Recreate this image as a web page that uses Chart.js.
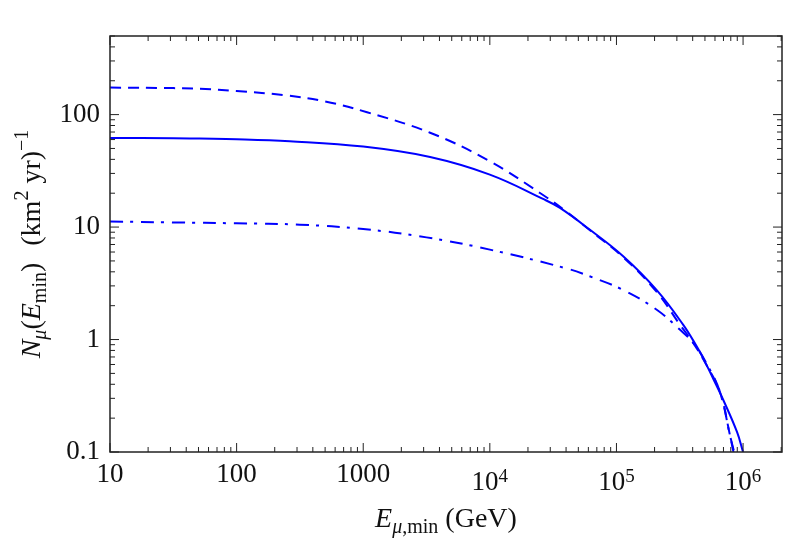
<!DOCTYPE html>
<html>
<head>
<meta charset="utf-8">
<script src="https://cdn.jsdelivr.net/npm/chart.js@4/dist/chart.umd.min.js"></script>
<style>
  html, body { margin: 0; padding: 0; background: #fff; }
  #wrap { width: 790px; height: 549px; }
</style>
</head>
<body>
<div id="wrap"><canvas id="muonChart"></canvas></div>
<script>
// energies (GeV) and muon counts
var solidE = [10, 31.6, 51, 100, 263, 1000, 3375, 10000, 26300, 35800, 61400, 113000, 208000, 337000, 430000, 485000, 580000, 698000, 897000, 1000000];
var solidN = [62, 61.7, 61.2, 60.5, 58, 52, 42, 29.3, 17.8, 14.8, 9.5, 5.5, 2.75, 1.35, 0.87, 0.68, 0.45, 0.29, 0.15, 0.1];

var dashE = [10, 31.6, 51.4, 100, 250, 500, 1072, 3375, 10000, 24900, 40000, 61400, 113000, 208000, 318000, 405000, 520000, 658000, 789000, 840000];
var dashN = [174, 172, 170, 162, 148, 131, 105, 69, 38.5, 20.1, 13.8, 9.4, 5.4, 2.65, 1.35, 0.93, 0.58, 0.34, 0.14, 0.1];

var dotE = [10, 31.6, 100, 316, 1000, 3160, 10000, 40000, 61400, 113000, 208000, 318000, 405000, 520000, 658000, 789000, 850000];
var dotN = [11.2, 11, 10.8, 10.5, 9.6, 8.1, 6.3, 4.3, 3.65, 2.76, 1.84, 1.22, 0.93, 0.6, 0.34, 0.14, 0.1];

var xTicks = [10, 100, 1000, 1e4, 1e5, 1e6];
var xTickBase = ['10', '100', '1000', '10', '10', '10'];
var xTickExp = ['', '', '', '4', '5', '6'];
var yTicks = [0.1, 1, 10, 100];
var yTickLabels = ['0.1', '1', '10', '100'];

var serif = '"Liberation Serif", "DejaVu Serif", serif';

function pts(xs, ys) {
  return xs.map(function(x, i) { return {x: x, y: ys[i]}; });
}

// inward major/minor ticks on all four sides plus the frame
var frameTicks = {
  id: 'frameTicks',
  afterDraw: function(chart) {
    var c = chart.ctx, a = chart.chartArea;
    var xs = chart.scales.x, ys = chart.scales.y;
    c.save();
    c.strokeStyle = '#222';
    c.lineWidth = 1.5;
    c.strokeRect(a.left, a.top, a.right - a.left, a.bottom - a.top);
    c.lineWidth = 1;
    var e, m, v, p, len;
    for (e = 0; e <= 6; e++) {
      for (m = 1; m <= 9; m++) {
        v = m * Math.pow(10, e);
        if (v < xs.min || v > xs.max) continue;
        p = xs.getPixelForValue(v);
        len = m === 1 ? 9 : 5;
        c.beginPath();
        c.moveTo(p, a.bottom); c.lineTo(p, a.bottom - len);
        c.moveTo(p, a.top); c.lineTo(p, a.top + len);
        c.stroke();
      }
    }
    for (e = -1; e <= 2; e++) {
      for (m = 1; m <= 9; m++) {
        v = m * Math.pow(10, e);
        if (v < ys.min || v > ys.max) continue;
        p = ys.getPixelForValue(v);
        len = m === 1 ? 9 : 5;
        c.beginPath();
        c.moveTo(a.left, p); c.lineTo(a.left + len, p);
        c.moveTo(a.right, p); c.lineTo(a.right - len, p);
        c.stroke();
      }
    }
    c.restore();
  }
};

// draw a run of styled text pieces; returns total width
function richText(c, parts, x, y, measureOnly) {
  var cx = x;
  parts.forEach(function(t) {
    c.font = (t.it ? 'italic ' : '') + t.size + 'px ' + serif;
    if (!measureOnly) c.fillText(t.s, cx, y + (t.dy || 0));
    cx += c.measureText(t.s).width + (t.gap || 0);
  });
  return cx - x;
}

// x tick labels with real superscript exponents
var xLabels = {
  id: 'xLabels',
  afterDraw: function(chart) {
    var c = chart.ctx, xs = chart.scales.x, a = chart.chartArea;
    c.save();
    c.fillStyle = '#111';
    c.textBaseline = 'alphabetic';
    c.textAlign = 'left';
    xTicks.forEach(function(v, i) {
      var p = xs.getPixelForValue(v);
      var parts = [{s: xTickBase[i], size: 27}];
      var base = a.bottom + 30;
      if (xTickExp[i]) {
        parts.push({s: xTickExp[i], size: 19, dy: -8});
        base = a.bottom + 38;
      }
      var w = richText(c, parts, 0, 0, true);
      richText(c, parts, p - w / 2, base);
    });
    c.restore();
  }
};

var axisTitles = {
  id: 'axisTitles',
  afterDraw: function(chart) {
    var c = chart.ctx, a = chart.chartArea;
    c.save();
    c.fillStyle = '#111';
    c.textBaseline = 'alphabetic';
    c.textAlign = 'left';
    var xt = [
      {s: 'E', it: true, size: 28},
      {s: 'μ', it: true, size: 20, dy: 6},
      {s: ',min', size: 20, dy: 6},
      {s: ' (GeV)', size: 28}
    ];
    var w = richText(c, xt, 0, 0, true);
    richText(c, xt, (a.left + a.right) / 2 - w / 2, 527);

    var yt = [
      {s: 'N', it: true, size: 28},
      {s: 'μ', it: true, size: 20, dy: 6},
      {s: '(', size: 28},
      {s: 'E', it: true, size: 28},
      {s: 'min', size: 20, dy: 6},
      {s: ')  ', size: 28, gap: 3},
      {s: '(km', size: 28},
      {s: '2', size: 20, dy: -12},
      {s: ' yr)', size: 28},
      {s: '−1', size: 20, dy: -12}
    ];
    var wy = richText(c, yt, 0, 0, true);
    c.translate(40, (a.top + a.bottom) / 2);
    c.rotate(-Math.PI / 2);
    richText(c, yt, -wy / 2, 0);
    c.restore();
  }
};

var lineBase = {
  borderColor: '#0000ff',
  borderWidth: 2,
  pointRadius: 0,
  fill: false,
  tension: 0.4,
  showLine: true
};

new Chart(document.getElementById('muonChart'), {
  type: 'scatter',
  data: {
    datasets: [
      Object.assign({label: 'solid', data: pts(solidE, solidN)}, lineBase),
      Object.assign({label: 'dashed', data: pts(dashE, dashN), borderDash: [11, 7]}, lineBase),
      Object.assign({label: 'dashdot', data: pts(dotE, dotN), borderDash: [13, 7, 3, 8]}, lineBase)
    ]
  },
  options: {
    responsive: true,
    maintainAspectRatio: false,
    animation: false,
    layout: { padding: { top: 36, right: 8, left: 0, bottom: 0 } },
    plugins: { legend: { display: false }, tooltip: { enabled: false } },
    scales: {
      x: {
        type: 'logarithmic',
        min: 10,
        max: 2.03e6,
        grid: { display: false, drawTicks: false },
        border: { display: false },
        afterBuildTicks: function(s) { s.ticks = xTicks.map(function(v) { return {value: v}; }); },
        afterFit: function(s) { s.height = 97; },
        ticks: { display: false }
      },
      y: {
        type: 'logarithmic',
        min: 0.1,
        max: 500,
        grid: { display: false, drawTicks: false },
        border: { display: false },
        afterBuildTicks: function(s) { s.ticks = yTicks.map(function(v) { return {value: v}; }); },
        afterFit: function(s) { s.width = 110; },
        ticks: {
          padding: 10,
          color: '#111',
          autoSkip: false,
          font: { family: serif, size: 27 },
          callback: function(v) { var i = yTicks.indexOf(v); return i < 0 ? '' : yTickLabels[i]; }
        }
      }
    }
  },
  plugins: [frameTicks, xLabels, axisTitles]
});
</script>
</body>
</html>
